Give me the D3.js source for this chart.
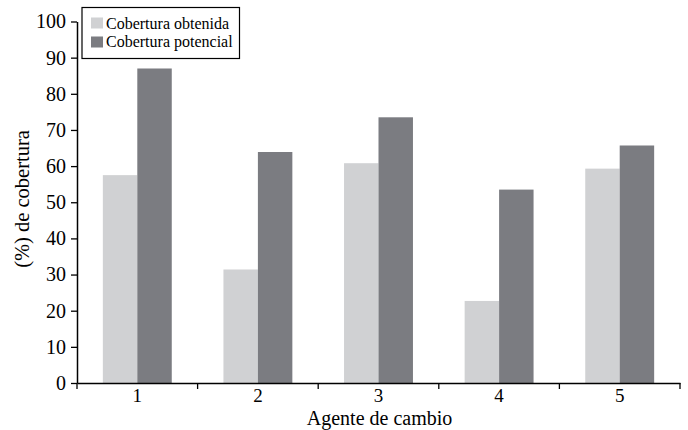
<!DOCTYPE html>
<html>
<head>
<meta charset="utf-8">
<script src="https://cdn.jsdelivr.net/npm/d3@7"></script>
<style>
  body { margin: 0; background: #fff; }
  text { font-family: "Liberation Serif", "Times New Roman", serif; fill: #000; }
</style>
</head>
<body>
<script>
// data
const categories = ['1', '2', '3', '4', '5'];
const series = ['Cobertura obtenida', 'Cobertura potencial'];
const obtenida = [57.5, 31.4, 60.8, 22.7, 59.3];
const potencial = [87.0, 63.9, 73.5, 53.5, 65.7];
const yTicks = [0, 10, 20, 30, 40, 50, 60, 70, 80, 90, 100];
const colors = ['#d0d1d3', '#7b7c81'];

// layout
const W = 688, H = 430;
const plotLeft = 77, plotRight = 680, plotTop = 21.5, plotBottom = 383;

const svg = d3.select('body').append('svg')
  .attr('width', W)
  .attr('height', H);

const x = d3.scaleBand().domain(categories).range([plotLeft, plotRight]).padding(0);
const xs = d3.scaleBand().domain(series).range([0, x.bandwidth()])
  .paddingInner(0).paddingOuter(0.75);
const y = d3.scaleLinear().domain([0, 100]).range([plotBottom, plotTop]);

// bars
const rows = categories.map((c, i) => ({ cat: c, vals: [obtenida[i], potencial[i]] }));

svg.append('g').selectAll('g')
  .data(rows)
  .enter().append('g')
  .attr('transform', d => `translate(${x(d.cat)},0)`)
  .selectAll('rect')
  .data(d => d.vals.map((v, j) => ({ s: series[j], v: v, j: j })))
  .enter().append('rect')
  .attr('x', d => xs(d.s))
  .attr('y', d => y(d.v))
  .attr('width', xs.bandwidth())
  .attr('height', d => y(0) - y(d.v))
  .attr('fill', d => colors[d.j]);

// y axis
const yAxis = svg.append('g')
  .attr('transform', `translate(${plotLeft},0)`)
  .call(d3.axisLeft(y).tickValues(yTicks).tickSize(6).tickSizeOuter(0).tickPadding(5));
yAxis.select('.domain').attr('stroke', '#000').attr('stroke-width', 1.5);
yAxis.selectAll('.tick line').attr('stroke', '#000').attr('stroke-width', 1.3);
yAxis.selectAll('.tick text')
  .style('font-size', '20px')
  .attr('fill', '#000');

// x axis
const xAxis = svg.append('g')
  .attr('transform', `translate(0,${plotBottom})`)
  .call(d3.axisBottom(x).tickSize(0).tickSizeOuter(0).tickPadding(6));
xAxis.select('.domain').attr('stroke', '#000').attr('stroke-width', 1.5);
xAxis.selectAll('.tick text')
  .style('font-size', '19px')
  .attr('fill', '#000');

// tick marks on band boundaries
const bounds = categories.map(c => x(c)).concat([x.range()[1]]);
xAxis.selectAll('line.bound')
  .data(bounds)
  .enter().append('line')
  .attr('class', 'bound')
  .attr('x1', d => d).attr('x2', d => d)
  .attr('y1', 0).attr('y2', 6)
  .attr('stroke', '#000')
  .attr('stroke-width', 1.3);

// axis titles
svg.append('text')
  .attr('x', (plotLeft + plotRight) / 2 + 1)
  .attr('y', 425)
  .attr('text-anchor', 'middle')
  .style('font-size', '20px')
  .text('Agente de cambio');

svg.append('text')
  .attr('transform', 'translate(29,199) rotate(-90)')
  .attr('text-anchor', 'middle')
  .style('font-size', '20.5px')
  .text('(%) de cobertura');

// legend
const legend = svg.append('g').attr('transform', 'translate(82,7.5)');
legend.append('rect')
  .attr('width', 157.5).attr('height', 51)
  .attr('fill', '#fff').attr('stroke', '#000').attr('stroke-width', 1.2);
series.forEach((s, i) => {
  legend.append('rect')
    .attr('x', 9).attr('y', 10 + i * 19)
    .attr('width', 12).attr('height', 11)
    .attr('fill', colors[i]);
  legend.append('text')
    .attr('x', 24).attr('y', 21 + i * 18.5)
    .style('font-size', '16px')
    .text(s);
});
</script>
</body>
</html>
